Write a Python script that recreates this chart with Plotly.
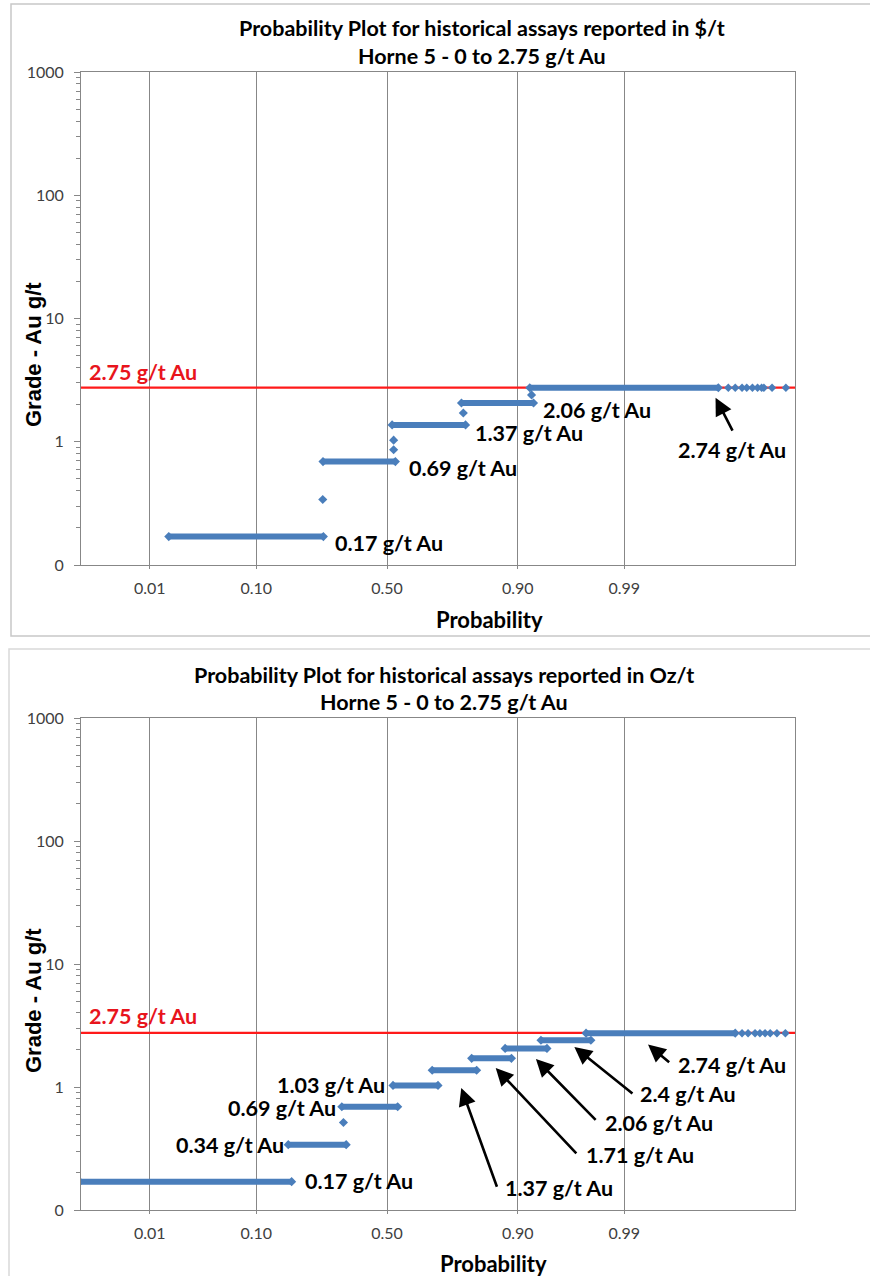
import plotly.graph_objects as go
from statistics import NormalDist

ND = NormalDist()

# ---------------- data ----------------
prob_ticks = [0.01, 0.10, 0.50, 0.90, 0.99]
prob_tick_text = ["0.01", "0.10", "0.50", "0.90", "0.99"]
grade_ticks = [0.1, 1, 10, 100, 1000]
grade_tick_text = ["0", "1", "10", "100", "1000"]
cutoff_grade = 2.75

# Top chart: assays reported in $/t  (grade steps, probability start/end of each dense run)
top_step_grade = [0.17, 0.69, 1.37, 2.06, 2.74]
top_step_p_start = [0.0162, 0.2652, 0.5200, 0.7673, 0.9192]
top_step_p_end = [0.2664, 0.5327, 0.7794, 0.9246, 0.99942]
top_single_p = [0.2644, 0.5259, 0.5259, 0.7728, 0.9218]
top_single_grade = [0.34, 1.03, 0.86, 1.71, 2.40]
top_tail_p = [0.99959, 0.99968, 0.99975, 0.99979, 0.99983, 0.99986, 0.99988, 0.99989, 0.99992, 0.999954]
top_tail_grade = [2.74] * 10

# Bottom chart: assays reported in Oz/t
bot_step_grade = [0.17, 0.34, 0.69, 1.03, 1.37, 1.71, 2.06, 2.40, 2.74]
bot_step_p_start = [0.0013, 0.1665, 0.3289, 0.5235, 0.6711, 0.7967, 0.8766, 0.9344, 0.9745]
bot_step_p_end = [0.1749, 0.3446, 0.5418, 0.6915, 0.8103, 0.8888, 0.9416, 0.9772, 0.99968]
bot_single_p = [0.3347]
bot_single_grade = [0.515]
bot_tail_p = [0.99975, 0.99980, 0.999846, 0.999872, 0.999895, 0.999914, 0.999934, 0.999953]
bot_tail_grade = [2.74] * 8

# Labels: text, normal score of left edge, log10 grade of centre
top_labels = ["0.17 g/t Au", "0.69 g/t Au", "1.37 g/t Au", "2.06 g/t Au", "2.74 g/t Au"]
top_label_z = [-0.529, 0.20, 0.84, 1.509, 2.838]
top_label_logy = [-0.821, -0.211, 0.073, 0.257, -0.063]
top_arrow_head = [(3.221, 0.358)]
top_arrow_tail = [(3.395, 0.078)]

bot_labels = ["0.17 g/t Au", "0.34 g/t Au", "0.69 g/t Au", "1.03 g/t Au", "1.37 g/t Au",
              "1.71 g/t Au", "2.06 g/t Au", "2.4 g/t Au", "2.74 g/t Au"]
bot_label_z = [-0.827, -2.09, -1.575, -1.099, 1.142, 1.929, 2.122, 2.461, 2.838]
bot_label_logy = [-0.764, -0.470, -0.171, 0.019, -0.823, -0.552, -0.293, -0.057, 0.182]
bot_arrow_head = [(0.728, -0.008), (1.066, 0.155), (1.460, 0.228), (1.837, 0.326), (2.559, 0.345)]
bot_arrow_tail = [(1.083, -0.823), (1.870, -0.552), (2.060, -0.280), (2.421, -0.063), (2.781, 0.190)]

# ---------------- styling ----------------
W, H = 870, 1276
BLUE = "#4A7EBB"
RED = "#FF1A1A"
GRID = "#878787"
TXT = "#404040"
FONT = "Lato"

def z(p):
    return ND.inv_cdf(p)

def px(x):
    return x / W

def py(y):
    return 1 - y / H

fig = go.Figure()

def add_panel(xa, ya, step_g, p0, p1, single_p, single_g, tail_p, tail_g):
    # cut-off line
    fig.add_trace(go.Scatter(x=[-3, 4], y=[cutoff_grade, cutoff_grade], mode="lines",
                             line=dict(color=RED, width=2.2), xaxis=xa, yaxis=ya,
                             showlegend=False, hoverinfo="skip"))
    for g, a, b in zip(step_g, p0, p1):
        fig.add_trace(go.Scatter(x=[z(a), z(b)], y=[g, g], mode="lines+markers",
                                 line=dict(color=BLUE, width=6),
                                 marker=dict(symbol="diamond", size=7, color=BLUE),
                                 xaxis=xa, yaxis=ya, showlegend=False))
    fig.add_trace(go.Scatter(x=[z(p) for p in single_p], y=single_g, mode="markers",
                             marker=dict(symbol="diamond", size=7, color=BLUE),
                             xaxis=xa, yaxis=ya, showlegend=False))
    fig.add_trace(go.Scatter(x=[z(p) for p in tail_p], y=tail_g, mode="markers",
                             marker=dict(symbol="diamond", size=6.5, color=BLUE),
                             xaxis=xa, yaxis=ya, showlegend=False))

add_panel("x", "y", top_step_grade, top_step_p_start, top_step_p_end,
          top_single_p, top_single_grade, top_tail_p, top_tail_grade)
add_panel("x2", "y2", bot_step_grade, bot_step_p_start, bot_step_p_end,
          bot_single_p, bot_single_grade, bot_tail_p, bot_tail_grade)

xaxis_common = dict(range=[-3, 4], tickvals=[z(p) for p in prob_ticks], ticktext=prob_tick_text,
                    showgrid=True, gridcolor=GRID, gridwidth=1, zeroline=False,
                    showline=True, linecolor=GRID, linewidth=1, mirror=True,
                    ticks="outside", ticklen=3, tickcolor=GRID, automargin=False,
                    tickfont=dict(family=FONT, size=16, color=TXT), ticklabelstandoff=6,
                    domain=[px(81), px(795)])
yaxis_common = dict(type="log", range=[-1, 3], tickvals=grade_ticks, ticktext=grade_tick_text,
                    showgrid=False, zeroline=False, showline=True, linecolor=GRID, linewidth=1,
                    mirror=True, ticks="outside", ticklen=6, tickcolor=GRID, automargin=False,
                    tickfont=dict(family=FONT, size=16, color=TXT), ticklabelstandoff=7,
                    minor=dict(ticks="outside", ticklen=4, tickcolor=GRID, dtick="D1", showgrid=False))

fig.update_layout(
    width=W, height=H, margin=dict(l=0, r=0, t=0, b=0, pad=0),
    paper_bgcolor="white", plot_bgcolor="white", showlegend=False,
    xaxis=dict(**xaxis_common, anchor="y"),
    yaxis=dict(**yaxis_common, domain=[py(565), py(72)], anchor="x"),
    xaxis2=dict(**xaxis_common, anchor="y2"),
    yaxis2=dict(**yaxis_common, domain=[py(1210), py(718)], anchor="x2"),
)

ann = []
def text_ann(text, x, y, size, color="black", xref="paper", yref="paper", xanchor="center", angle=0, family=FONT):
    ann.append(dict(text=text, x=x, y=y, xref=xref, yref=yref, showarrow=False,
                    xanchor=xanchor, yanchor="middle", textangle=angle,
                    font=dict(family=family, size=size, color=color)))

# titles
text_ann("<b>Probability Plot for historical assays reported in $/t</b>", px(482), py(28), 21.5)
text_ann("<b>Horne 5 - 0 to 2.75 g/t Au</b>", px(482), py(56), 21.5)
text_ann("<b>Probability Plot for historical assays reported in Oz/t</b>", px(444), py(675), 21.5)
text_ann("<b>Horne 5 - 0 to 2.75 g/t Au</b>", px(444), py(702), 21.5)
# axis titles
text_ann("<b>Probability</b>", px(489), py(619), 22)
text_ann("<b>Probability</b>", px(494), py(1263), 22)
text_ann("<b>Grade - Au g/t</b>", px(33), py(355), 22, angle=-90, family="Liberation Sans")
text_ann("<b>Grade - Au g/t</b>", px(33), py(1001), 22, angle=-90, family="Liberation Sans")

# red cut-off labels
text_ann("<b>2.75 g/t Au</b>", -2.94, 0.569, 21.5, color="#E8141C", xref="x", yref="y", xanchor="left")
text_ann("<b>2.75 g/t Au</b>", -2.94, 0.575, 21.5, color="#E8141C", xref="x2", yref="y2", xanchor="left")

for t, zx, ly in zip(top_labels, top_label_z, top_label_logy):
    text_ann("<b>%s</b>" % t, zx, ly, 21.5, xref="x", yref="y", xanchor="left")
for t, zx, ly in zip(bot_labels, bot_label_z, bot_label_logy):
    text_ann("<b>%s</b>" % t, zx, ly, 21.5, xref="x2", yref="y2", xanchor="left")

def arrows(heads, tails, xr, yr):
    for (hx, hy), (tx, ty) in zip(heads, tails):
        ann.append(dict(text="", x=hx, y=hy, ax=tx, ay=ty, xref=xr, yref=yr, axref=xr, ayref=yr,
                        showarrow=True, arrowhead=2, arrowsize=1.35, arrowwidth=2.6,
                        arrowcolor="black", standoff=0, startstandoff=0))

arrows(top_arrow_head, top_arrow_tail, "x", "y")
arrows(bot_arrow_head, bot_arrow_tail, "x2", "y2")

fig.update_layout(annotations=ann)

# panel frames
fig.add_shape(type="rect", xref="paper", yref="paper", x0=px(11), x1=1.05, y0=py(636), y1=py(4),
              line=dict(color="#C8C8C8", width=1.5), layer="below")
fig.add_shape(type="rect", xref="paper", yref="paper", x0=px(9), x1=1.05, y0=-0.05, y1=py(649),
              line=dict(color="#D9D9D9", width=1.5), layer="below")

fig.write_html("out.html", config={"displayModeBar": False},
               post_script="document.body.style.margin='0';document.body.style.overflow='hidden';")
